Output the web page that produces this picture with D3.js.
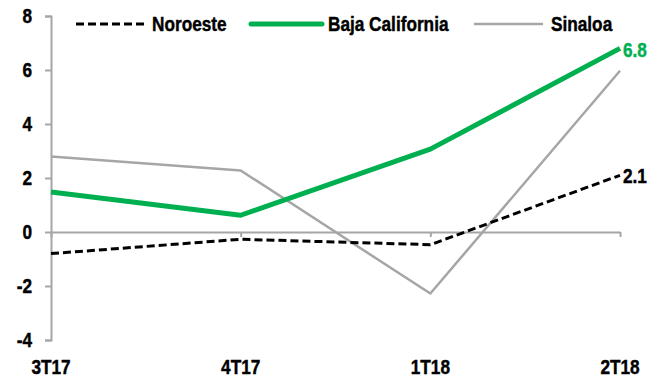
<!DOCTYPE html>
<html><head><meta charset="utf-8">
<script src="https://cdn.jsdelivr.net/npm/d3@7"></script>
<style>
html,body{margin:0;padding:0;background:#fff;}
text{font-family:"Liberation Sans Narrow","Arial Narrow","Liberation Sans",Arial,sans-serif;font-weight:bold;}
</style></head>
<body><svg id="c" width="657" height="377"></svg>
<script>
const categories = ["3T17","4T17","1T18","2T18"];
const noroeste = [-0.8, -0.27, -0.47, 2.1];
const bajaCalifornia = [1.48, 0.62, 3.07, 6.8];
const sinaloa = [2.8, 2.28, -2.28, 5.97];
const yTicks = [-4,-2,0,2,4,6,8];
const seriesNames = ["Noroeste","Baja California","Sinaloa"];
const endLabels = ["2.1", "6.8", null];

const FS = 21, SX = 0.82;
const svg = d3.select("#c");
const x = d3.scalePoint().domain(categories).range([51, 620]);
const y = d3.scaleLinear().domain([-4, 8]).range([340, 16]);
const axisColor = "#A6A6A6";

// condense text horizontally around its x anchor, slightly embolden
function narrow(sel) {
  sel.each(function() {
    const t = d3.select(this);
    const tx = +t.attr("x") || 0;
    t.attr("x", 0).attr("transform", `translate(${tx},0) scale(${SX},1)`)
     .attr("stroke", t.attr("fill")).attr("stroke-width", 0.45);
  });
}

// y axis
const ya = svg.append("g").attr("transform","translate(51,0)")
  .call(d3.axisLeft(y).tickValues(yTicks).tickSize(6).tickPadding(13).tickFormat(d => String(d)));
ya.selectAll("path,line").attr("stroke", axisColor).attr("stroke-width", 2);
ya.selectAll("text").attr("font-size", FS).attr("fill","#000")
  .style("font-family",'"Liberation Sans Narrow","Arial Narrow","Liberation Sans",sans-serif').style("font-weight","bold")
  .call(narrow);

// x axis at zero
const xa = svg.append("g").attr("transform",`translate(0,${y(0)})`)
  .call(d3.axisBottom(x).tickSize(5).tickSizeOuter(0).tickFormat(""));
xa.selectAll("path,line").attr("stroke", axisColor).attr("stroke-width", 2);

// category labels
svg.append("g").selectAll("text").data(categories).join("text")
  .attr("x", d => x(d)).attr("y", 367).attr("text-anchor","middle")
  .attr("dominant-baseline","central").attr("font-size", FS).attr("fill","#000").text(d => d)
  .call(narrow);

const styles = [
  {color:"#000", width:3, dash:"8,4"},
  {color:"#00B050", width:5, dash:null},
  {color:"#A6A6A6", width:2.5, dash:null}
];
const data = [noroeste, bajaCalifornia, sinaloa];
const line = d3.line().x((d,i) => x(categories[i])).y(d => y(d));

[2,0,1].forEach(k => {
  const s = styles[k];
  svg.append("path").datum(data[k]).attr("d", line).attr("fill","none")
    .attr("stroke", s.color).attr("stroke-width", s.width)
    .attr("stroke-dasharray", s.dash).attr("stroke-linejoin","round");
});

// end labels
[0,1].forEach(k => {
  const v = data[k][data[k].length-1];
  svg.append("text").attr("x", x(categories[categories.length-1]) + 3).attr("y", y(v) + 1)
    .attr("dominant-baseline","central").attr("font-size", FS)
    .attr("fill", k===1 ? "#00B050" : "#000").text(endLabels[k])
    .call(narrow);
});

// legend
const legendPos = [{x1:76,x2:144,tx:152},{x1:251,x2:322,tx:328},{x1:474,x2:543,tx:551}];
const lg = svg.append("g");
seriesNames.forEach((n,k) => {
  const p = legendPos[k], s = styles[k];
  lg.append("line").attr("x1",p.x1).attr("x2",p.x2).attr("y1",24).attr("y2",24)
    .attr("stroke", s.color).attr("stroke-width", s.width).attr("stroke-dasharray", s.dash)
    .attr("stroke-linecap", k===1 ? "round" : "butt");
  lg.append("text").attr("x",p.tx).attr("y",24).attr("dominant-baseline","central")
    .attr("font-size",FS).attr("fill","#000").text(n)
    .call(narrow);
});
</script></body></html>
